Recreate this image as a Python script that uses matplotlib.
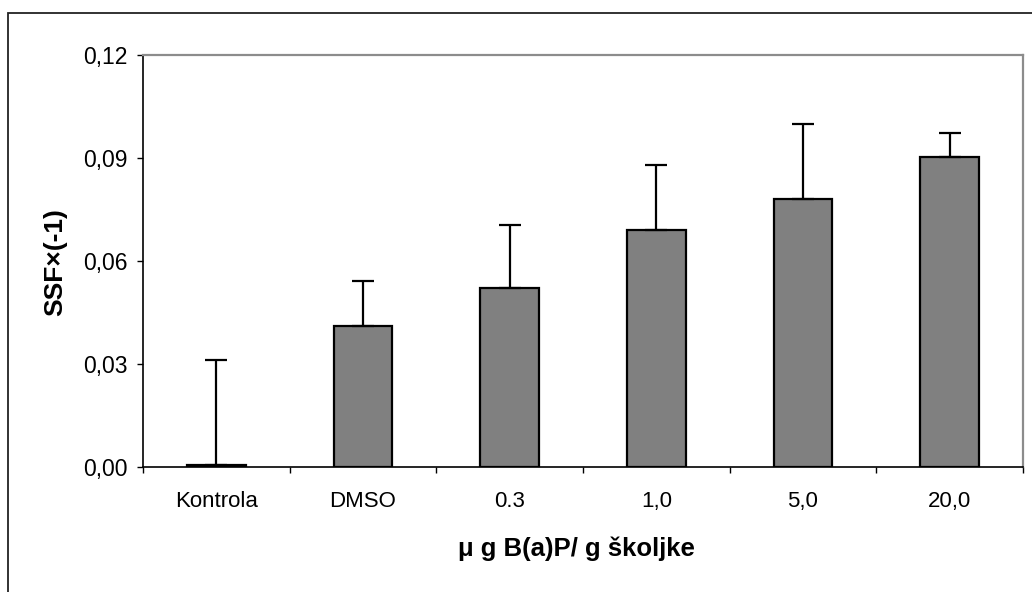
import numpy as np
import matplotlib.pyplot as plt
from matplotlib.patches import Rectangle
from matplotlib.ticker import FixedLocator, FuncFormatter

plt.rcParams['font.family'] = ['Liberation Sans', 'DejaVu Sans']

groups = ["Kontrola", "DMSO", "0.3", "1,0", "5,0", "20,0"]
ssf = [0.0005, 0.041, 0.052, 0.069, 0.078, 0.0903]
sd = [0.0308, 0.0133, 0.0185, 0.019, 0.0218, 0.007]
yticks = [0.0, 0.03, 0.06, 0.09, 0.12]

W, H = 1032, 592
fig = plt.figure(figsize=(W / 100, H / 100), dpi=100)

# outer chart frame (runs off the right and bottom edges)
fig.add_artist(Rectangle((8 / W, -0.2), 1.2, 0.2 + (H - 13.5) / H,
                         transform=fig.transFigure, fill=False,
                         edgecolor="#222222", lw=1.3))

ax = fig.add_axes([143 / W, 1 - 467 / H, 880 / W, 412 / H])

x = np.arange(len(groups))
ax.bar(x, ssf, width=0.4, color="#808080", edgecolor="black", linewidth=1.6,
       zorder=2)
ax.errorbar(x, ssf, yerr=[np.zeros(len(sd)), sd], fmt="none", ecolor="black",
            elinewidth=1.6, capsize=8, capthick=1.6, zorder=3)

ax.set_xlim(-0.5, len(groups) - 0.5)
ax.set_ylim(0, 0.12)

ax.set_yticks(yticks)
ax.yaxis.set_major_formatter(FuncFormatter(lambda v, p: f"{v:.2f}".replace(".", ",")))
ax.tick_params(axis="y", direction="out", length=4.3, width=1, labelsize=16.5, pad=7)

ax.set_xticks(x)
ax.set_xticklabels(groups)
ax.xaxis.set_minor_locator(FixedLocator(np.arange(-0.5, len(groups), 1.0)))
ax.tick_params(axis="x", which="major", length=0, labelsize=16, pad=17)
ax.tick_params(axis="x", which="minor", direction="out", length=4.3, width=1)

for s in ["left", "bottom"]:
    ax.spines[s].set_color("black")
    ax.spines[s].set_linewidth(1.2)
for s in ["top", "right"]:
    ax.spines[s].set_color("#8c8c8c")
    ax.spines[s].set_linewidth(1.6)

fig.text(55 / W, 1 - 262 / H, "SSF×(-1)", rotation=90, ha="center", va="center",
         fontsize=19, fontweight="bold")
fig.text(576 / W, 1 - 549 / H, "μ g B(a)P/ g školjke", ha="center", va="center",
         fontsize=18.5, fontweight="bold")

fig.savefig("out.png", dpi=100)
